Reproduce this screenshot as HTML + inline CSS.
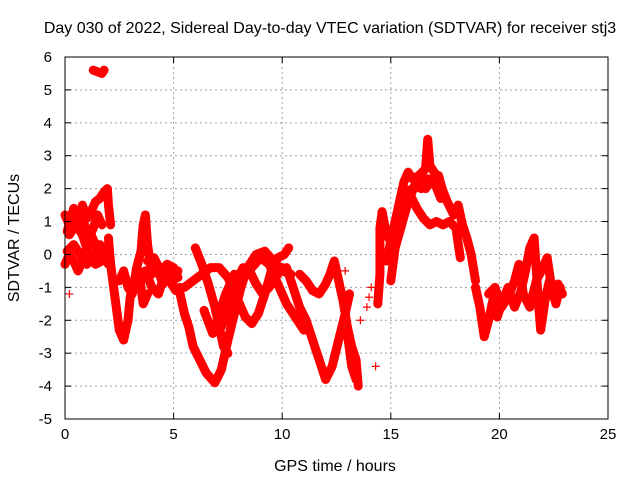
<!DOCTYPE html>
<html><head><meta charset="utf-8"><style>
body{margin:0;background:#fff}
svg text{font-family:"Liberation Sans",sans-serif;font-size:15px;fill:#000}
svg text.big{font-size:16px}
</style></head><body>
<svg id="chart" width="640" height="480" viewBox="0 0 640 480" xmlns="http://www.w3.org/2000/svg">
<rect width="640" height="480" fill="#fff"/>
<g id="grid"></g>
<g id="series"></g>
<g id="axes"></g>
<text class="big" x="330" y="33" text-anchor="middle">Day 030 of 2022, Sidereal Day-to-day VTEC variation (SDTVAR) for receiver stj3</text>
<text class="big" x="335" y="471" text-anchor="middle">GPS time / hours</text>
<text class="big" transform="translate(19,238) rotate(-90)" text-anchor="middle">SDTVAR / TECUs</text>
</svg>
<script>
const xTicks=[0,5,10,15,20,25];
const yTicks=[-5,-4,-3,-2,-1,0,1,2,3,4,5,6];
const traceA=[[0,1.2],[0.2,0.9],[0.4,1.4],[0.6,1.0],[0.8,1.5],[1.0,1.1],[1.2,1.3],[1.4,1.6],[1.6,1.7],[1.8,1.9],[1.95,2.0],[2.0,1.5],[2.1,0.9]];
const traceA2=[[0.1,0.7],[0.3,1.2],[0.5,0.8],[0.7,1.3],[0.9,0.9],[1.1,0.5],[1.3,0.8],[1.5,1.2],[1.7,0.9]];
const traceB=[[0,-0.3],[0.2,0.0],[0.4,-0.2],[0.6,-0.5],[0.8,-0.2],[1.0,0.2],[1.2,0.6],[1.4,0.3],[1.6,-0.2],[1.8,-0.1],[2.0,-0.3]];
const traceC=[[0.2,0.6],[0.5,0.9],[0.8,0.6],[1.1,0.0],[1.4,-0.3],[1.7,-0.2]];
const traceC2=[[0.1,0.1],[0.4,0.3],[0.7,0.0],[1.0,-0.3],[1.3,-0.1],[1.6,0.3],[1.9,0.1]];
const traceD=[[2.0,0.5],[2.1,-0.3],[2.3,-1.3],[2.5,-2.3],[2.7,-2.6],[2.9,-2.0],[3.0,-1.3],[3.2,-0.8],[3.4,-0.5],[3.6,-1.5],[3.8,-1.2]];
const traceE=[[2.5,-0.8],[2.7,-0.5],[2.9,-1.0],[3.1,-1.2],[3.3,-0.4],[3.5,0.1],[3.6,0.9],[3.7,1.2],[3.8,0.3],[4.0,-0.6],[4.2,-0.3],[4.5,-0.9],[4.8,-0.5],[5.0,-0.8],[5.2,-0.5]];
const traceE2=[[3.4,-0.9],[3.7,-0.5],[4.0,-1.0],[4.3,-1.2],[4.6,-0.6],[4.9,-0.9],[5.1,-1.1],[5.3,-1.0]];
const traceE3=[[3.8,-0.2],[4.1,-0.1],[4.4,-0.5],[4.7,-0.3],[5.0,-0.4],[5.2,-0.7]];
const traceF=[[5.3,-1.2],[5.5,-1.8],[5.7,-2.2],[5.9,-2.8],[6.2,-3.2],[6.5,-3.6],[6.9,-3.9],[7.2,-3.5],[7.5,-2.6],[7.8,-1.8],[8.1,-1.0],[8.4,-0.4],[8.8,0.0],[9.2,0.1],[9.6,-0.2],[10.0,-0.5],[10.4,-0.6]];
const traceG=[[6.0,0.2],[6.3,-0.3],[6.6,-0.9],[6.9,-1.6],[7.1,-2.2],[7.3,-2.8],[7.5,-3.0]];
const traceH=[[5.5,-1.0],[5.9,-0.8],[6.3,-0.6],[6.7,-0.4],[7.1,-0.4],[7.5,-0.7],[7.9,-1.3],[8.3,-1.9],[8.6,-2.1],[8.9,-1.8],[9.2,-1.2],[9.5,-0.5],[9.8,-0.1],[10.1,0.0],[10.3,0.2]];
const traceI=[[6.4,-1.7],[6.8,-2.4],[7.2,-2.2],[7.6,-1.5],[7.9,-0.8],[8.2,-0.4],[8.5,-0.5],[8.8,-0.9],[9.1,-1.2],[9.4,-1.0],[9.8,-0.6],[10.0,-0.4]];
const traceI2=[[7.0,-2.0],[7.4,-1.2],[7.8,-0.6],[8.2,-0.7],[8.6,-0.4],[9.0,-0.1],[9.4,-0.3],[9.8,-0.9],[10.2,-1.5],[10.6,-1.9],[11.0,-2.3]];
const traceJ=[[10.2,-0.4],[10.5,-1.0],[10.8,-1.6],[11.1,-2.0],[11.4,-2.6],[11.7,-3.2],[12.0,-3.8],[12.3,-3.4],[12.6,-2.6],[12.9,-1.8],[13.1,-1.2]];
const traceK=[[10.8,-0.6],[11.1,-0.8],[11.4,-1.1],[11.7,-1.2],[12.0,-0.9],[12.2,-0.6],[12.4,-0.2],[12.6,-0.8],[12.8,-1.4],[13.0,-2.2],[13.2,-2.8],[13.4,-3.2],[13.5,-4.0]];
const traceL=[[13.0,-2.4],[13.2,-3.4],[13.4,-3.8]];
const traceM=[[14.4,-1.5],[14.5,-0.6],[14.5,0.8],[14.6,1.3],[14.8,0.6],[15.0,0.4],[15.2,0.6]];
const traceN=[[14.8,-0.2],[15.0,0.4],[15.2,1.0],[15.4,1.6],[15.6,2.2],[15.8,2.5],[16.0,2.3],[16.3,2.4],[16.6,2.6],[16.7,3.5],[16.8,2.7],[17.0,2.5],[17.3,2.1],[17.6,1.6],[17.9,1.2],[18.1,1.5],[18.3,0.9],[18.5,0.5],[18.7,0.0],[18.9,-0.8]];
const traceN2=[[15.4,1.2],[15.7,1.9],[16.0,2.0],[16.3,2.2],[16.6,2.0],[16.9,2.3],[17.2,2.4],[17.4,1.9]];
const traceO=[[15.3,0.8],[15.6,1.5],[15.9,1.8],[16.2,1.4],[16.5,1.1],[16.8,0.9],[17.1,1.0],[17.4,0.9],[17.7,1.0],[18.0,0.8],[18.2,-0.1]];
const traceP=[[15.0,-0.8],[15.2,0.2],[15.5,0.9],[15.8,1.6],[16.1,2.1],[16.4,2.0],[16.7,2.3],[17.0,2.2],[17.3,1.7]];
const traceQ=[[18.9,-1.0],[19.1,-1.6],[19.3,-2.5],[19.5,-2.0],[19.7,-1.4],[19.9,-1.9],[20.1,-1.5],[20.4,-1.0],[20.7,-1.6],[21.0,-1.1],[21.2,-0.5],[21.4,0.2],[21.6,0.5],[21.8,-1.5],[21.9,-2.3],[22.1,-1.4],[22.3,-0.8],[22.5,-1.3],[22.7,-0.9],[22.9,-1.2]];
const traceR=[[19.5,-1.2],[19.8,-1.0],[20.1,-1.6],[20.4,-1.3],[20.7,-0.8],[20.9,-0.3],[21.1,-1.2],[21.4,-1.6],[21.7,-0.8],[22.0,-0.4],[22.2,-0.1],[22.4,-1.0],[22.6,-1.5],[22.8,-1.0]];
const traceS=[[1.3,5.6],[1.5,5.55],[1.7,5.5],[1.8,5.6]];
const scatter=[[0.2,-1.2],[2.1,-0.2],[13.9,-1.6],[14.1,-1.0],[14.3,-3.4],[13.6,-2.0],[14.0,-1.3],[12.9,-0.5],[9.6,-0.4]];
const traces=[traceA,traceA2,traceB,traceC,traceC2,traceD,traceE,traceE2,traceE3,traceF,traceG,traceH,traceI,traceI2,traceJ,traceK,traceL,traceM,traceN,traceN2,traceO,traceP,traceQ,traceR,traceS];

const X0=65,X1=608,Y0=419,Y1=57;
const xs=t=>X0+(t-0)/25*(X1-X0);
const ys=v=>Y0-(v+5)/11*(Y0-Y1);
const NS="http://www.w3.org/2000/svg";
function mk(tag,attrs,parent){const e=document.createElementNS(NS,tag);for(const k in attrs)e.setAttribute(k,attrs[k]);parent.appendChild(e);return e;}
const grid=document.getElementById('grid'),axes=document.getElementById('axes'),ser=document.getElementById('series');
xTicks.forEach(t=>{const x=xs(t);
 if(t>0&&t<25){const g=mk('line',{x1:x,x2:x,y1:Y1,y2:Y0,stroke:'#a0a0a0','stroke-dasharray':'2,3'},grid);}
 mk('line',{x1:x,x2:x,y1:Y0,y2:Y0-6,stroke:'#000'},axes);mk('line',{x1:x,x2:x,y1:Y1,y2:Y1+6,stroke:'#000'},axes);
 const tx=mk('text',{x:x,y:Y0+20,'text-anchor':'middle'},axes);tx.textContent=t;
 
 });
yTicks.forEach(v=>{const y=ys(v);
 if(v>-5&&v<6){const g=mk('line',{x1:X0,x2:X1,y1:y,y2:y,stroke:'#a0a0a0','stroke-dasharray':'2,3'},grid);}
 mk('line',{x1:X0,x2:X0+6,y1:y,y2:y,stroke:'#000'},axes);mk('line',{x1:X1,x2:X1-6,y1:y,y2:y,stroke:'#000'},axes);
 const tx=mk('text',{x:X0-13,y:y+5,'text-anchor':'end'},axes);tx.textContent=v;
 
 });
const fr=mk('rect',{x:X0,y:Y1,width:X1-X0,height:Y0-Y1,fill:'none',stroke:'#000'},axes);


function plus(t,v){const x=xs(t),y=ys(v);const p=mk('path',{d:`M${x-4},${y}h8M${x},${y-4}v8`,stroke:'#f00','stroke-width':1.2},ser);
 
 }
traces.forEach(tr=>{
 const pl=mk('polyline',{points:tr.map(p=>xs(p[0])+','+ys(p[1])).join(' '),fill:'none',stroke:'#f00','stroke-width':9,'stroke-linejoin':'round','stroke-linecap':'round'},ser);
 
 
 tr.forEach(p=>plus(p[0],p[1]));});
scatter.forEach(p=>plus(p[0],p[1]));
</script>
</body></html>
